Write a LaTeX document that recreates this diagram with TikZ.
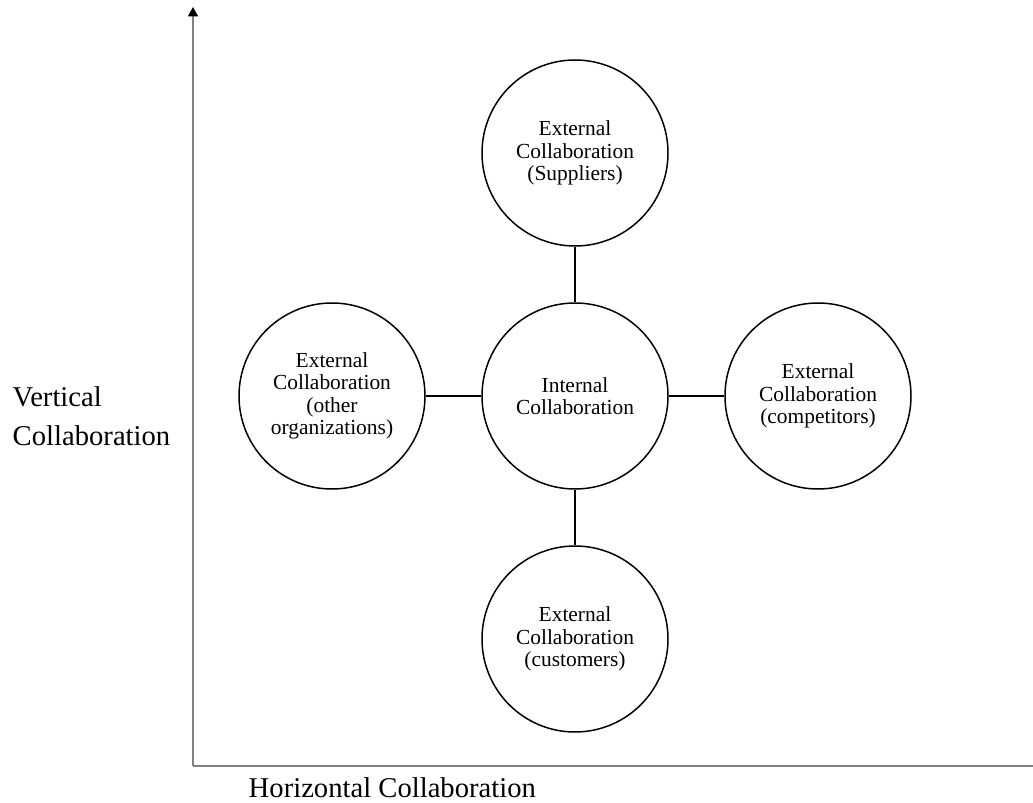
\documentclass[tikz,border=0pt]{standalone}
\usepackage{fontspec}
\setmainfont{Liberation Serif}
\usepackage{tikz}
\usetikzlibrary{arrows.meta}

\begin{document}
\begin{tikzpicture}[
		line width=0.85pt,
		collab/.style={circle, draw, minimum size=3.72cm, inner sep=0pt, align=center, font=\fontsize{12.2}{12.8}\selectfont},
		axislabel/.style={inner sep=0pt, align=left, font=\fontsize{16.3}{22.2}\selectfont}
	]
  \useasboundingbox (0cm, 0cm) rectangle (20.66cm, 16.04cm);
  \coordinate (o) at (3.86cm, 0.72cm);
  \coordinate (ytop) at (3.86cm, 15.9cm);
  \coordinate (xend) at (20.66cm, 0.72cm);
  \draw[gray, line width=1.1pt, -{Triangle[black, width=0.2cm, length=0.19cm]}] (o) -- (ytop);
  \draw[gray, line width=1.1pt] (o) -- (xend);
  \node (vlab) [axislabel, anchor=west] at (0.24cm, 7.72cm) {Vertical\\Collaboration};
  \node (hlab) [axislabel, anchor=base west] at (4.96cm, 0.1cm) {Horizontal Collaboration};
  \node (int) [collab] at (11.5cm, 8.12cm) {Internal\\Collaboration};
  \node (sup) [collab] at (11.5cm, 12.98cm) {External\\Collaboration\\(Suppliers)};
  \node (cus) [collab] at (11.5cm, 3.26cm) {External\\Collaboration\\(customers)};
  \node (oth) [collab] at (6.64cm, 8.12cm) {External\\Collaboration\\(other\\organizations)};
  \node (com) [collab] at (16.36cm, 8.12cm) {External\\Collaboration\\(competitors)};
  \draw (int) edge (sup);
  \draw (int) edge (cus);
  \draw (int) edge (oth);
  \draw (int) edge (com);
\end{tikzpicture}
\end{document}
